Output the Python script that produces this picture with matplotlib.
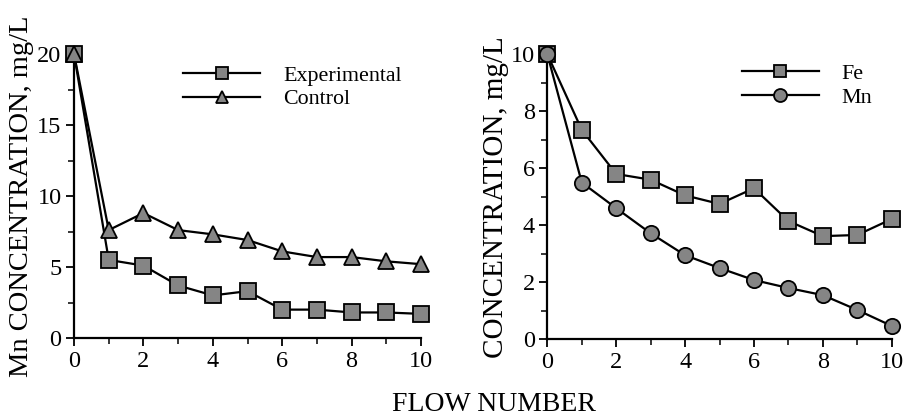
import matplotlib
matplotlib.use("Agg")
import matplotlib.pyplot as plt
from matplotlib.ticker import MultipleLocator

plt.rcParams['font.family'] = ['Liberation Serif', 'DejaVu Serif']

# flow number on x, shared by both panels
flow = [0, 1, 2, 3, 4, 5, 6, 7, 8, 9, 10]

# left panel: Mn concentration, mg/L
experimental = [20.0, 5.5, 5.1, 3.7, 3.0, 3.3, 2.0, 2.0, 1.8, 1.8, 1.7]
control = [20.0, 7.6, 8.8, 7.6, 7.3, 6.9, 6.1, 5.7, 5.7, 5.4, 5.2]

# right panel: concentration, mg/L
fe = [10.0, 7.35, 5.8, 5.6, 5.05, 4.75, 5.3, 4.15, 3.62, 3.66, 4.22]
mn = [10.0, 5.5, 4.6, 3.72, 2.95, 2.5, 2.08, 1.8, 1.55, 1.03, 0.47]

MARKER_FACE = '#858585'


def style_axes(ax, ymax, ymajor, yminor):
    ax.set_xlim(0, 10)
    ax.set_ylim(0, ymax)
    for side in ('top', 'right'):
        ax.spines[side].set_visible(False)
    for side in ('left', 'bottom'):
        ax.spines[side].set_linewidth(1.6)
    ax.xaxis.set_major_locator(MultipleLocator(2))
    ax.xaxis.set_minor_locator(MultipleLocator(1))
    ax.yaxis.set_major_locator(MultipleLocator(ymajor))
    ax.yaxis.set_minor_locator(MultipleLocator(yminor))
    ax.tick_params(which='major', direction='out', length=6, width=1.3,
                   labelsize=17.5, pad=3)
    ax.tick_params(which='minor', direction='out', length=4, width=1.1)


def plot_series(ax, x, y, marker, label, ms):
    line, = ax.plot(x, y, color='black', lw=1.6, marker=marker, ms=ms,
                    mfc=MARKER_FACE, mec='black', mew=1.3, clip_on=False,
                    label=label, zorder=3)
    return line


def add_legend(ax, x0, y0):
    ax.legend(loc='upper left', bbox_to_anchor=(x0, y0), frameon=False,
              fontsize=15.8, handlelength=3.5, handletextpad=1.05,
              labelspacing=0.15, borderpad=0, borderaxespad=0,
              markerscale=0.85)


fig = plt.figure(figsize=(9.05, 4.17), dpi=100)
ax1 = fig.add_axes([0.0818, 0.1894, 0.3834, 0.6811])
ax2 = fig.add_axes([0.6048, 0.1863, 0.3805, 0.6835])

plot_series(ax1, flow, experimental, 's', 'Experimental', 11)
plot_series(ax1, flow, control, '^', 'Control', 11)
style_axes(ax1, 20, 5, 2.5)
ax1.set_ylabel('Mn CONCENTRATION, mg/L', fontsize=20.5, labelpad=2)
add_legend(ax1, 0.315, 0.96)

plot_series(ax2, flow, fe, 's', 'Fe', 11)
plot_series(ax2, flow, mn, 'o', 'Mn', 11)
style_axes(ax2, 10, 2, 1)
ax2.set_ylabel('CONCENTRATION, mg/L', fontsize=21, labelpad=1)
add_legend(ax2, 0.565, 0.967)

fig.text(0.546, 0.014, 'FLOW NUMBER', ha='center', va='baseline', fontsize=20)

fig.savefig('out.png', dpi=100)
